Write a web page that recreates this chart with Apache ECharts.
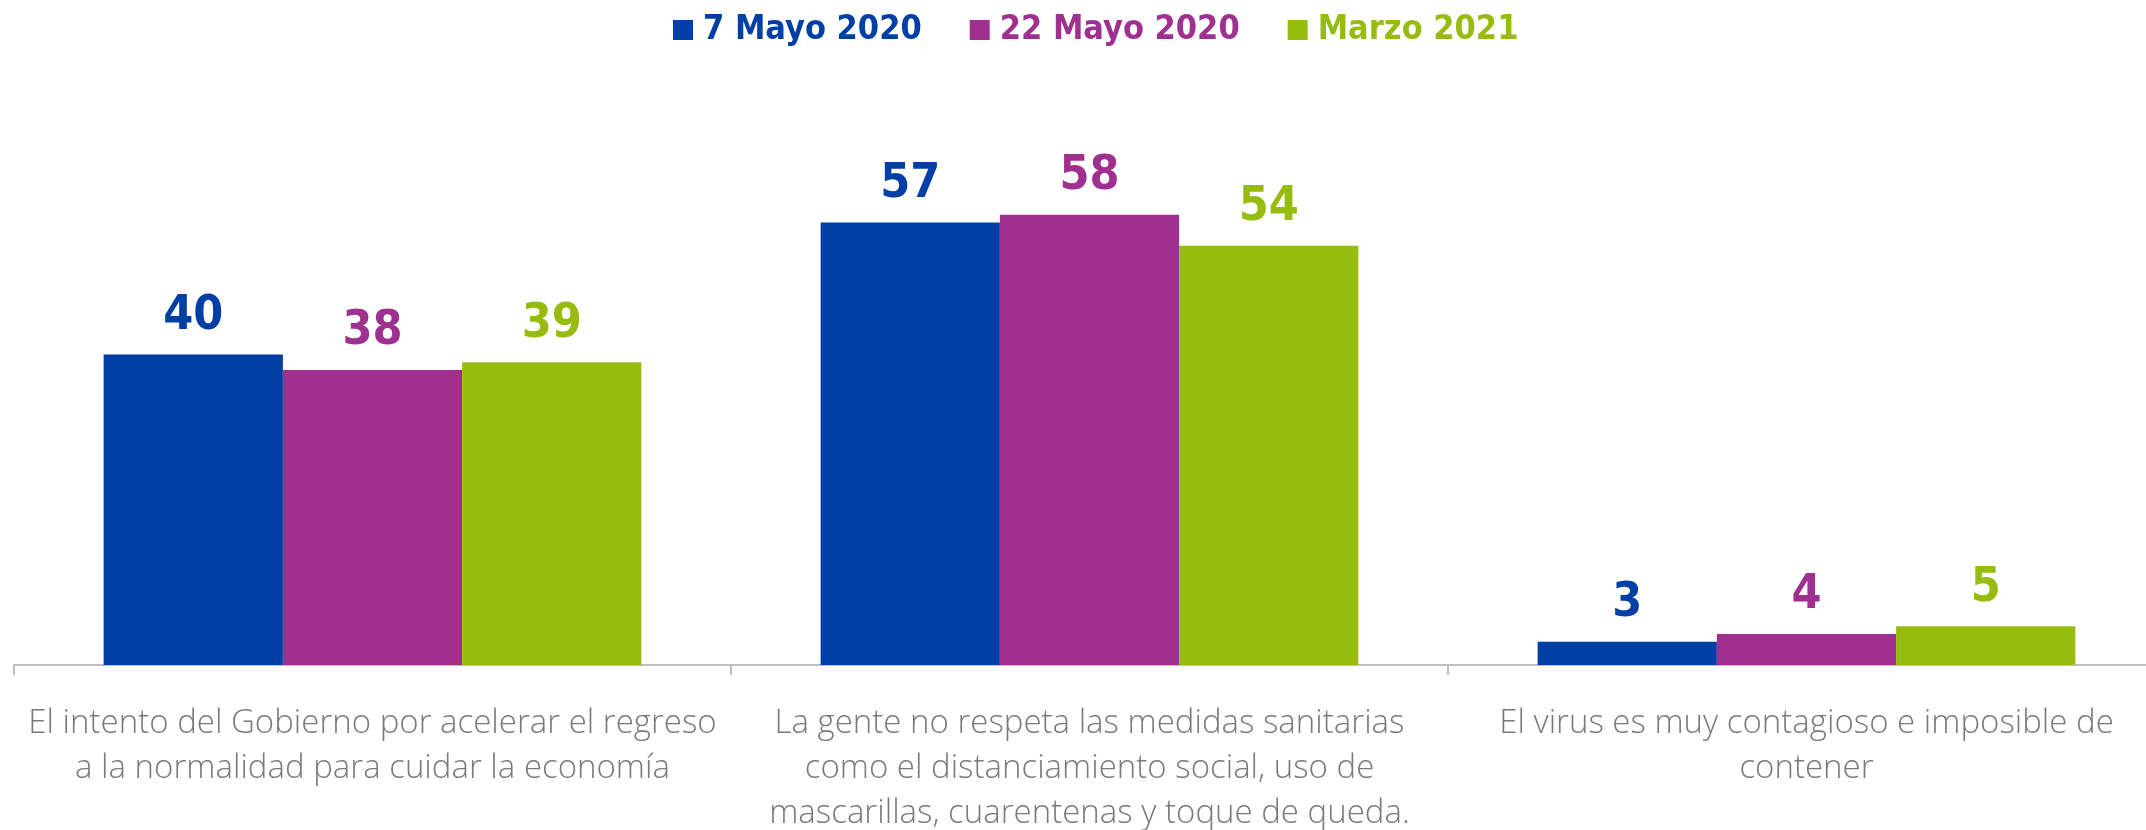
<!DOCTYPE html>
<html><head><meta charset="utf-8">
<script src="https://cdn.jsdelivr.net/npm/echarts@6/dist/echarts.min.js"></script>
<style>html,body{margin:0;padding:0;background:#fff}#c{width:2146px;height:830px}</style>
</head><body><div id="c"></div>
<script>
const categories = [
  "El intento del Gobierno por acelerar el regreso\na la normalidad para cuidar la economía",
  "La gente no respeta las medidas sanitarias\ncomo el distanciamiento social, uso de\nmascarillas, cuarentenas y toque de queda.",
  "El virus es muy contagioso e imposible de\ncontener"
];
const seriesNames = ["7 Mayo 2020", "22 Mayo 2020", "Marzo 2021"];
const may7 = [40, 57, 3];
const may22 = [38, 58, 4];
const mar2021 = [39, 54, 5];
const colors = ["#003FA6", "#A0308F", "#96BC10"];

const valueFont = "'DejaVu Sans Condensed', 'DejaVu Sans', sans-serif";
const chart = echarts.init(document.getElementById('c'), null, {renderer: 'canvas'});
const data = [may7, may22, mar2021];
chart.setOption({
  animation: false,
  color: colors,
  legend: {
    top: 8,
    left: 668,
    itemWidth: 20, itemHeight: 20, itemGap: 48,
    icon: 'rect',
    data: seriesNames.map((n, i) => ({name: n, textStyle: {color: colors[i]}})),
    textStyle: {fontFamily: valueFont, fontWeight: 'bold', fontSize: 34, padding: [0,0,0,5]}
  },
  grid: {left: 14, width: 2151, top: 44, bottom: 165, containLabel: false, outerBoundsMode: 'none'},
  xAxis: {
    type: 'category',
    data: categories,
    axisLine: {lineStyle: {color: '#BFBFBF', width: 2}},
    axisTick: {show: true, length: 10, lineStyle: {color: '#BFBFBF', width: 2}},
    axisLabel: {
      color: '#7A7A7A', fontFamily: "'Open Sans', sans-serif", fontWeight: 300, fontSize: 33,
      lineHeight: 45, margin: 36, interval: 0, align: 'center'
    }
  },
  yAxis: {type: 'value', min: 0, max: 80, show: false, splitLine: {show: false}},
  series: seriesNames.map((n, i) => ({
    name: n, type: 'bar', data: data[i],
    barGap: '0%', barCategoryGap: '25%',
    itemStyle: {color: colors[i]},
    label: {show: true, position: 'top', distance: 14, color: colors[i],
      fontFamily: valueFont, fontWeight: 'bold', fontSize: 48}
  }))
});
</script></body></html>
